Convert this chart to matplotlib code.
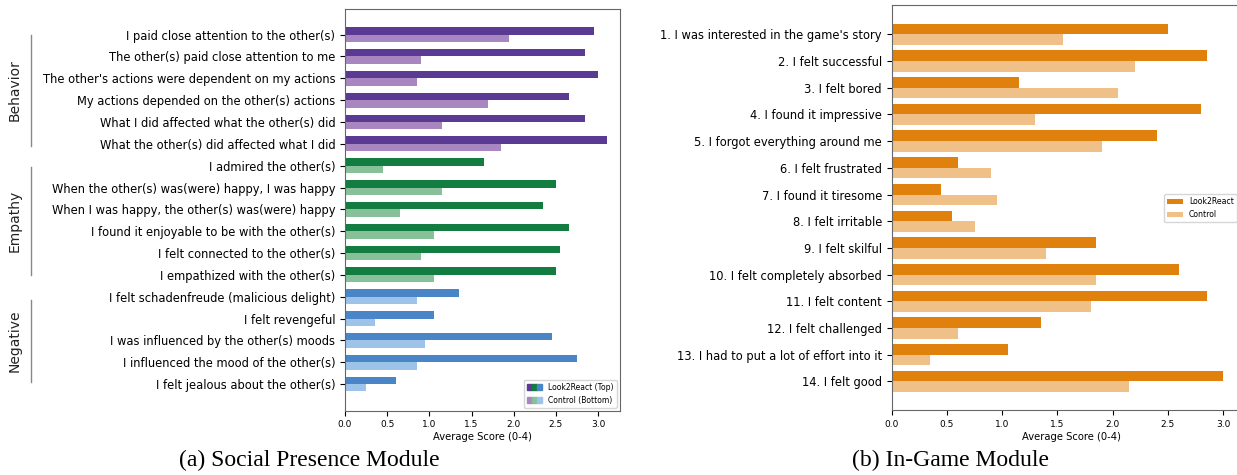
import numpy as np
import matplotlib
matplotlib.use('Agg')
import matplotlib.pyplot as plt
from matplotlib.patches import Patch
from matplotlib.legend_handler import HandlerTuple
from matplotlib.lines import Line2D

plt.rcParams['font.family'] = ['DejaVu Sans']

# ---- (a) Social Presence Module ----
sp_labels = [
    "I paid close attention to the other(s)",
    "The other(s) paid close attention to me",
    "The other's actions were dependent on my actions",
    "My actions depended on the other(s) actions",
    "What I did affected what the other(s) did",
    "What the other(s) did affected what I did",
    "I admired the other(s)",
    "When the other(s) was(were) happy, I was happy",
    "When I was happy, the other(s) was(were) happy",
    "I found it enjoyable to be with the other(s)",
    "I felt connected to the other(s)",
    "I empathized with the other(s)",
    "I felt schadenfreude (malicious delight)",
    "I felt revengeful",
    "I was influenced by the other(s) moods",
    "I influenced the mood of the other(s)",
    "I felt jealous about the other(s)",
]
sp_look2react = [2.95, 2.85, 3.00, 2.65, 2.85, 3.10,
                 1.65, 2.50, 2.35, 2.65, 2.55, 2.50,
                 1.35, 1.05, 2.45, 2.75, 0.60]
sp_control = [1.95, 0.90, 0.85, 1.70, 1.15, 1.85,
              0.45, 1.15, 0.65, 1.05, 0.90, 1.05,
              0.85, 0.35, 0.95, 0.85, 0.25]
groups = ['Behavior', 'Empathy', 'Negative']
group_sizes = [6, 6, 5]
dark_cols = ['#5b3a94', '#137c40', '#4a85c7']
light_cols = ['#a887c1', '#87c099', '#9dc4e8']

# ---- (b) In-Game Module ----
ig_labels = [
    "1. I was interested in the game's story",
    "2. I felt successful",
    "3. I felt bored",
    "4. I found it impressive",
    "5. I forgot everything around me",
    "6. I felt frustrated",
    "7. I found it tiresome",
    "8. I felt irritable",
    "9. I felt skilful",
    "10. I felt completely absorbed",
    "11. I felt content",
    "12. I felt challenged",
    "13. I had to put a lot of effort into it",
    "14. I felt good",
]
ig_look2react = [2.50, 2.85, 1.15, 2.80, 2.40, 0.60, 0.45,
                 0.55, 1.85, 2.60, 2.85, 1.35, 1.05, 3.00]
ig_control = [1.55, 2.20, 2.05, 1.30, 1.90, 0.90, 0.95,
              0.75, 1.40, 1.85, 1.80, 0.60, 0.35, 2.15]
orange_dark = '#e0800d'
orange_light = '#f0c089'

W, H = 1237, 475
fig = plt.figure(figsize=(W / 100, H / 100), dpi=100)

spine_col = '#666666'

# left panel
ax1 = fig.add_axes([345 / W, 1 - 410.7 / H, 275 / W, (410.7 - 9.3) / H])
cols_d, cols_l = [], []
for g, n in enumerate(group_sizes):
    cols_d += [dark_cols[g]] * n
    cols_l += [light_cols[g]] * n
y = np.arange(len(sp_labels))
h1 = 0.34
ax1.barh(y - h1 / 2, sp_look2react, height=h1, color=cols_d)
ax1.barh(y + h1 / 2, sp_control, height=h1, color=cols_l)
ax1.set_yticks(y)
ax1.set_yticklabels(sp_labels, fontsize=8.3)
ax1.set_xlim(0, 3.26)
ax1.set_ylim(17.22, -1.16)
ax1.set_xticks(np.arange(0, 3.01, 0.5))
ax1.tick_params(axis='x', labelsize=6.5)
ax1.set_xlabel('Average Score (0-4)', fontsize=7.2, labelpad=2)
for s in ax1.spines.values():
    s.set_color(spine_col)

top_h = tuple(Patch(color=c) for c in dark_cols)
bot_h = tuple(Patch(color=c) for c in light_cols)
ax1.legend([top_h, bot_h], ['Look2React (Top)', 'Control (Bottom)'],
           handler_map={tuple: HandlerTuple(ndivide=None, pad=0)},
           loc='lower right', fontsize=5.5, borderaxespad=0.4)

# group brackets on the far left
brackets = [(35, 146), (167, 275), (300, 382)]
for name, (y0, y1) in zip(groups, brackets):
    fig.add_artist(Line2D([31 / W, 31 / W], [1 - y0 / H, 1 - y1 / H],
                          color='#888888', lw=1))
    fig.text(15 / W, 1 - (y0 + y1) / 2 / H, name, rotation=90,
             ha='center', va='center', fontsize=10, color='#222222')

# right panel
ax2 = fig.add_axes([891.7 / W, 1 - 410 / H, 359 / W, (410 - 5.3) / H])
y2 = np.arange(len(ig_labels))
h2 = 0.4
ax2.barh(y2 - h2 / 2, ig_look2react, height=h2, color=orange_dark, label='Look2React')
ax2.barh(y2 + h2 / 2, ig_control, height=h2, color=orange_light, label='Control')
ax2.set_yticks(y2)
ax2.set_yticklabels(ig_labels, fontsize=8.3)
ax2.set_xlim(0, 3.25)
ax2.set_ylim(14.07, -1.086)
ax2.set_xticks(np.arange(0, 3.01, 0.5))
ax2.tick_params(axis='x', labelsize=6.5)
ax2.set_xlabel('Average Score (0-4)', fontsize=7.2, labelpad=2)
for s in ax2.spines.values():
    s.set_color(spine_col)
ax2.legend(loc='center right', bbox_to_anchor=(1.003, 1 - 208 / H),
           bbox_transform=fig.transFigure, fontsize=5.6)

# captions
fig.text(309 / W, 1 - 460 / H, '(a) Social Presence Module', ha='center', va='center',
         fontsize=17, family='Liberation Serif')
fig.text(951 / W, 1 - 460 / H, '(b) In-Game Module', ha='center', va='center',
         fontsize=17, family='Liberation Serif')

fig.savefig('out.png', dpi=100)
